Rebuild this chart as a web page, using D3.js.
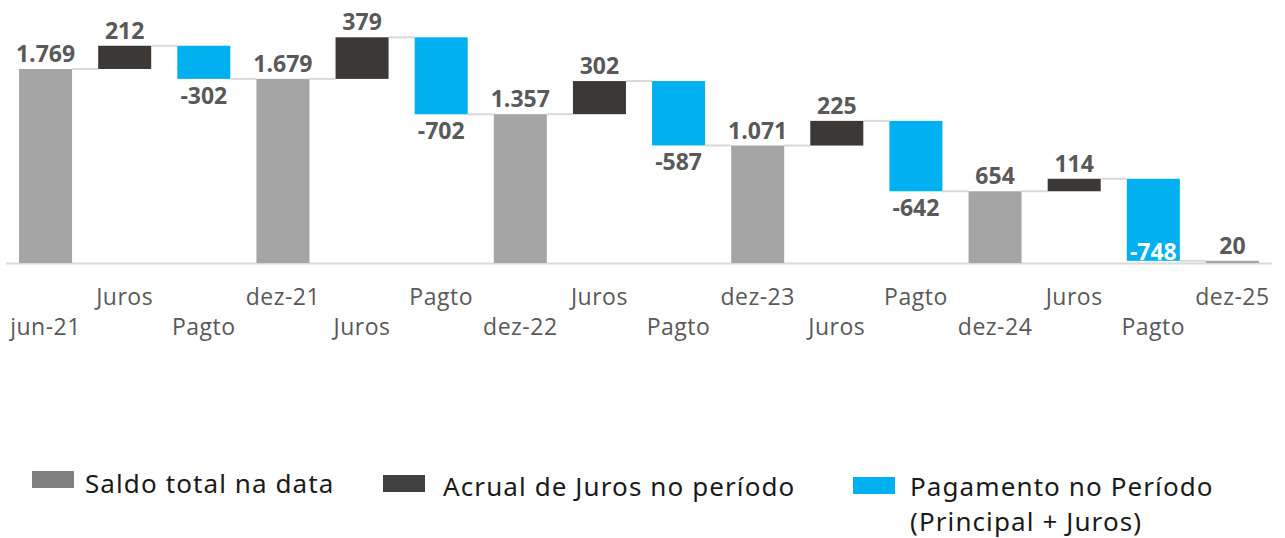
<!DOCTYPE html>
<html>
<head>
<meta charset="utf-8">
<script src="https://cdn.jsdelivr.net/npm/d3@7"></script>
<style>
  body { margin: 0; background: #fff; }
  svg { display: block; }
</style>
</head>
<body>
<script>
// dados
var categories = ["jun-21","Juros","Pagto","dez-21","Juros","Pagto","dez-22","Juros","Pagto","dez-23","Juros","Pagto","dez-24","Juros","Pagto","dez-25"];
var values = [1769, 212, -302, 1679, 379, -702, 1357, 302, -587, 1071, 225, -642, 654, 114, -748, 20];
var kinds = ["total","juros","pagto","total","juros","pagto","total","juros","pagto","total","juros","pagto","total","juros","pagto","total"];
var legendLabels = [["Saldo total na data"], ["Acrual de Juros no período"], ["Pagamento no Período", "(Principal + Juros)"]];
var legendKinds = ["total", "juros", "pagto"];

var width = 1285, height = 538;
var baseY = 263;

var barColor = {total: "#a5a5a5", juros: "#3b3836", pagto: "#00b0f0"};
var legendColor = {total: "#808080", juros: "#404040", pagto: "#00b0f0"};

var fmt = d3.formatLocale({decimal: ",", thousands: ".", grouping: [3], currency: ["R$", ""], minus: "-"}).format(",d");

// montar inicio/fim de cada barra
var rows = [];
var running = 0;
for (var i = 0; i < values.length; i++) {
    var start, end;
    if (kinds[i] == "total") { start = 0; end = values[i]; }
    else { start = running; end = running + values[i]; }
    running = end;
    rows.push({i: i, cat: categories[i], kind: kinds[i], value: values[i], start: start, end: end});
}

var x = d3.scaleBand().domain(d3.range(categories.length)).range([6, 1272]).paddingInner(0.33).paddingOuter(0.165);
var y = d3.scaleLinear().domain([0, 1769]).range([baseY, 69]);

var svg = d3.select("body").append("svg").attr("width", width).attr("height", height);

// linha do eixo
svg.append("line")
    .attr("x1", 6).attr("x2", 1272)
    .attr("y1", baseY + 0.5).attr("y2", baseY + 0.5)
    .attr("stroke", "#d9d9d9").attr("stroke-width", 2);

// conectores
svg.selectAll("line.conn").data(rows.slice(0, rows.length - 1)).enter().append("line")
    .attr("class", "conn")
    .attr("x1", function(d){ return x(d.i) + x.bandwidth(); })
    .attr("x2", function(d){ return x(d.i + 1); })
    .attr("y1", function(d){ return y(d.end); })
    .attr("y2", function(d){ return y(d.end); })
    .attr("stroke", "#d9d9d9").attr("stroke-width", 2);

// barras
svg.selectAll("rect.bar").data(rows).enter().append("rect")
    .attr("class", "bar")
    .attr("x", function(d){ return x(d.i); })
    .attr("width", x.bandwidth())
    .attr("y", function(d){ return y(Math.max(d.start, d.end)); })
    .attr("height", function(d){ return Math.max(1.5, Math.abs(y(d.start) - y(d.end))); })
    .attr("fill", function(d){ return barColor[d.kind]; });

// rotulos de valor
svg.selectAll("text.val").data(rows).enter().append("text")
    .attr("class", "val")
    .attr("x", function(d){ return x(d.i) + x.bandwidth() / 2; })
    .attr("y", function(d){
        if (d.value >= 0) return y(Math.max(d.start, d.end)) - 7;
        if (d.i == rows.length - 2) return y(d.end) - 1; // -748 fica dentro da barra
        return y(d.end) + 25;
    })
    .attr("text-anchor", "middle")
    .attr("font-family", "'Open Sans', sans-serif")
    .attr("font-weight", "bold")
    .attr("font-size", 23)
    .attr("fill", function(d){ return (d.value < 0 && d.i == rows.length - 2) ? "#ffffff" : "#595959"; })
    .text(function(d){ return fmt(d.value); });

// categorias em duas linhas
svg.selectAll("text.cat").data(rows).enter().append("text")
    .attr("class", "cat")
    .attr("x", function(d){ return x(d.i) + x.bandwidth() / 2; })
    .attr("y", function(d){ return d.i % 2 == 1 ? 305 : 335; })
    .attr("text-anchor", "middle")
    .attr("font-family", "'Open Sans', sans-serif")
    .attr("font-size", 23)
    .attr("letter-spacing", 0.5)
    .attr("fill", "#595959")
    .text(function(d){ return d.cat; });

// legenda
var legSq = [[32, 471], [383, 475], [853, 477]];
var legTx = [[85, 493], [443, 496], [910, 496]];
var leg = svg.selectAll("g.leg").data(legendKinds).enter().append("g")
    .attr("class", "leg");
leg.append("rect")
    .attr("x", function(d, i){ return legSq[i][0]; })
    .attr("y", function(d, i){ return legSq[i][1]; })
    .attr("width", 42).attr("height", 17)
    .attr("fill", function(d){ return legendColor[d]; });
leg.each(function(d, i){
    var t = d3.select(this).append("text")
        .attr("font-family", "'Noto Sans', sans-serif")
        .attr("font-size", 26)
        .attr("letter-spacing", 1.1)
        .attr("fill", "#1a1a1a");
    legendLabels[i].forEach(function(s, k){
        t.append("tspan").attr("x", legTx[i][0]).attr("y", legTx[i][1] + k * 35).text(s);
    });
});
</script>
</body>
</html>
